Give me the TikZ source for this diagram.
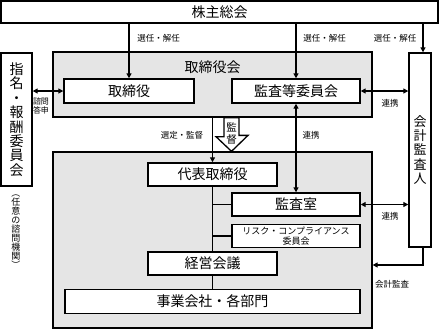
\documentclass[tikz,border=0pt]{standalone}
\usepackage{fontspec}
\setmainfont{Noto Sans CJK JP}
\usetikzlibrary{positioning, arrows.meta, calc}

\begin{document}
\begin{tikzpicture}[
    x=1pt, y=1pt,
    box/.style={draw, rectangle, fill=white, line width=1.4pt, align=center, inner sep=0pt, font=\fontsize{14}{16}\selectfont},
    group/.style={draw, rectangle, fill=gray!20, line width=1.3pt, minimum width=319pt},
    note/.style={font=\fontsize{8.5}{10}\selectfont, align=center, inner sep=0pt},
    arrow/.style={-{Triangle[length=5pt, width=5pt]}, line width=1.3pt},
    biarrow/.style={{Triangle[length=5pt, width=5pt]}-{Triangle[length=5pt, width=5pt]}, line width=1.3pt}
]

\useasboundingbox (0,0) rectangle (440,-330);

\node[box, minimum width=437pt, minimum height=22pt] (meeting) at (219.5,-12) {株主総会};

% board
\node[group, minimum height=65pt] (board) at (212.5,-84.5) {};
\node[font=\fontsize{14}{16}\selectfont, inner sep=0pt] (boardname) at ([yshift=-16pt]board.north) {取締役会};
\node[box, minimum width=130pt, minimum height=24pt] (directors) at (129,-91) {取締役};
\node[box, minimum width=128pt, minimum height=24pt] (auditcom) at (296,-91) {監査等委員会};

% execution
\node[group, minimum height=176pt] (exec) at (212.5,-240) {};
\node[box, minimum width=129pt, minimum height=23pt] (ceo) at (212.5,-174.5) {代表取締役};
\node[box, minimum width=128pt, minimum height=23pt] (auditoffice) at (296,-204.5) {監査室};
\node[box, minimum width=128pt, minimum height=23pt, below=7pt of auditoffice, font=\fontsize{9}{9.5}\selectfont] (risk) {リスク・コンプライアンス\\委員会};
\node[box, minimum width=129pt, minimum height=23pt] (mgmt) at (212.5,-263.5) {経営会議};
\node[box, minimum width=295pt, minimum height=24pt] (units) at (212.5,-301.5) {事業会社・各部門};

% side boxes
\node[box, minimum width=31pt, minimum height=133pt, font=\fontsize{14}{14.4}\selectfont] (nomination) at (16.5,-119.5) {指\\名\\・\\報\\酬\\委\\員\\会};
\node[note, font=\fontsize{9}{9}\selectfont] (nominote) at (16,-232) {︵\\任\\意\\の\\諮\\問\\機\\関\\︶};
\node[box, minimum width=22pt, minimum height=194pt, font=\fontsize{13}{14.4}\selectfont] (accountant) at (420,-150) {会\\計\\監\\査\\人};
\coordinate (acctop) at ([xshift=3pt]accountant.north);
\coordinate (accbot) at ([xshift=3pt]accountant.south);

% connectors
\draw[arrow] (directors.north |- meeting.south) -- (directors.north);
\draw[arrow] (auditcom.north |- meeting.south) -- (auditcom.north);
\draw[arrow] (acctop |- meeting.south) -- (acctop);
\draw[biarrow] (nomination.east |- directors) -- (directors.west);
\draw[biarrow] (auditcom.east) -- (auditcom.east -| accountant.west);
\draw[biarrow] (auditcom.south) -- (auditoffice.north);
\draw[biarrow] (auditoffice.east) -- (auditoffice.east -| accountant.west);
\draw[arrow] (board.south) -- (ceo.north);
\draw[arrow] (accbot) |- ([yshift=-25pt]exec.east);
\draw[line width=1.3pt] (ceo) -- (mgmt) -- (units);
\draw[line width=1.3pt] (ceo.south |- auditoffice.west) -- (auditoffice.west);
\draw[line width=1.3pt] (ceo.south |- risk.west) -- (risk.west);

% supervision arrow
\draw[line width=1.3pt, fill=white] ([xshift=11.5pt]board.south) -- ++(0,-19) -- ++(-8,0) -- ([xshift=19pt]exec.north) -- ++(16.5,16) -- ++(-9,0) -- ([xshift=26.5pt]board.south) -- cycle;
\node[font=\fontsize{10.5}{12}\selectfont, align=center, inner sep=0pt] (supervise) at ([xshift=19pt, yshift=-16pt]board.south) {監\\督};

% labels
\node[note] (appoint1) at (158.5,-38) {選任・解任};
\node[note] (appoint2) at (324.5,-38) {選任・解任};
\node[note] (appoint3) at (395,-38) {選任・解任};
\node[note, font=\fontsize{8}{9}\selectfont] (consult) at (41,-106) {諮問\\答申};
\node[note] (link1) at (390,-103) {連携};
\node[note] (link2) at (311,-135) {連携};
\node[note] (link3) at (390,-216) {連携};
\node[note] (select) at (182,-135) {選定・監督};
\node[note] (audit) at (392,-284) {会計監査};

\end{tikzpicture}
\end{document}
